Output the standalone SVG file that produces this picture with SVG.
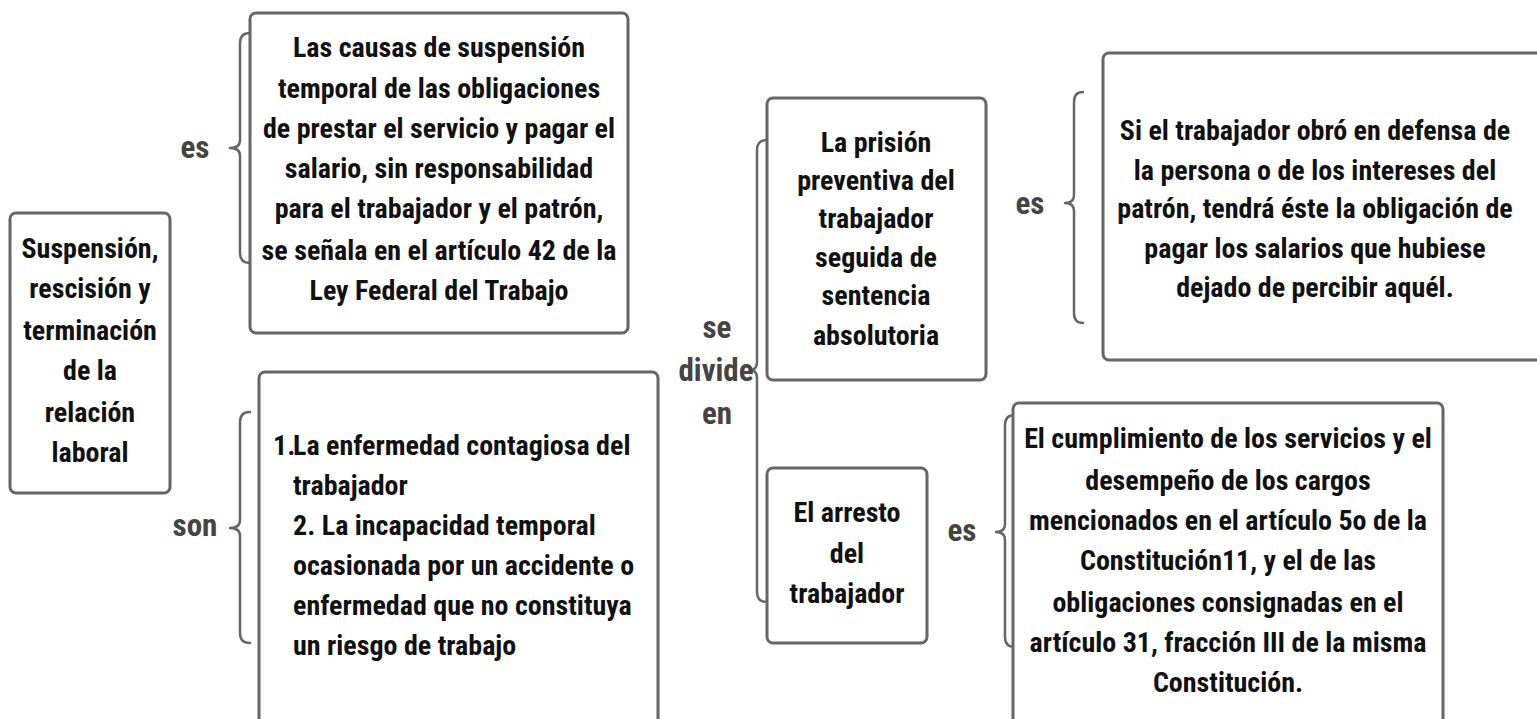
<svg xmlns="http://www.w3.org/2000/svg" width="1537" height="719" viewBox="0 0 1537 719">
<style>
.box{fill:#fff;stroke:#666;stroke-width:3}
.br{fill:none;stroke:#666;stroke-width:2.5;stroke-linejoin:round;stroke-linecap:round}
.t{font-family:"Liberation Sans Narrow","Arial Narrow","Roboto Condensed","Liberation Sans",sans-serif;font-weight:bold;font-size:28px;fill:#111;text-anchor:middle}
.tl{text-anchor:start}
.lb{font-family:"Liberation Sans Narrow","Arial Narrow","Roboto Condensed","Liberation Sans",sans-serif;font-weight:bold;font-size:31px;fill:#444;text-anchor:middle}
</style>
<rect width="1537" height="719" fill="#fff"/>
<g id="connectors">
<path class="br" d="M250,33 Q240,33 240,43 L240,140 Q240,148 230,148 Q240,148 240,156 L240,253 Q240,263 250,263"/>
<path class="br" d="M250,412 Q240,412 240,422 L240,520 Q240,528 230,528 Q240,528 240,536 L240,633 Q240,643 250,643"/>
<path class="br" d="M767,140 Q757,140 757,150 L757,362 Q757,370 750,370 Q757,370 757,378 L757,592 Q757,602 767,602"/>
<path class="br" d="M1015,415 Q1005,415 1005,425 L1005,524 Q1005,532 996,532 Q1005,532 1005,540 L1005,637 Q1005,647 1015,647"/>
<path class="br" d="M1083,92 Q1074,92 1074,102 L1074,195 Q1074,203 1065,203 Q1074,203 1074,211 L1074,313 Q1074,323 1083,323"/>
<text class="lb" x="195" y="158">es</text>
<text class="lb" x="195" y="536">son</text>
<text class="lb" x="717" y="338">se</text>
<text class="lb" x="716" y="381">divide</text>
<text class="lb" x="717" y="424">en</text>
<text class="lb" x="962" y="541">es</text>
<text class="lb" x="1030" y="214">es</text>
</g>
<g id="main">
<rect class="box" x="10" y="213" width="160" height="280" rx="6"/>
<text class="t" x="90" y="258">Suspensión,</text>
<text class="t" x="90" y="298">rescisión y</text>
<text class="t" x="90" y="340">terminación</text>
<text class="t" x="90" y="380">de la</text>
<text class="t" x="90" y="422">relación</text>
<text class="t" x="90" y="462">laboral</text>
</g>
<g id="n-causas">
<rect class="box" x="250" y="13" width="378" height="320" rx="6"/>
<text class="t" x="439" y="57">Las causas de suspensión</text>
<text class="t" x="439" y="98">temporal de las obligaciones</text>
<text class="t" x="439" y="138">de prestar el servicio y pagar el</text>
<text class="t" x="439" y="178">salario, sin responsabilidad</text>
<text class="t" x="439" y="218">para el trabajador y el patrón,</text>
<text class="t" x="439" y="260">se señala en el artículo 42 de la</text>
<text class="t" x="439" y="300">Ley Federal del Trabajo</text>
</g>
<g id="n-son">
<rect class="box" x="259" y="372" width="399" height="360" rx="6"/>
<text class="t tl" x="273" y="455">1.</text>
<text class="t tl" x="293" y="455">La enfermedad contagiosa del</text>
<text class="t tl" x="293" y="495">trabajador</text>
<text class="t tl" x="293" y="535">2. La incapacidad temporal</text>
<text class="t tl" x="293" y="575">ocasionada por un accidente o</text>
<text class="t tl" x="293" y="615">enfermedad que no constituya</text>
<text class="t tl" x="293" y="655">un riesgo de trabajo</text>
</g>
<g id="n-prision">
<rect class="box" x="767" y="98" width="219" height="282" rx="6"/>
<text class="t" x="876" y="152">La prisión</text>
<text class="t" x="876" y="190">preventiva del</text>
<text class="t" x="876" y="228">trabajador</text>
<text class="t" x="876" y="267">seguida de</text>
<text class="t" x="876" y="305">sentencia</text>
<text class="t" x="876" y="345">absolutoria</text>
</g>
<g id="n-arresto">
<rect class="box" x="767" y="468" width="160" height="175" rx="6"/>
<text class="t" x="847" y="522">El arresto</text>
<text class="t" x="847" y="563">del</text>
<text class="t" x="847" y="603">trabajador</text>
</g>
<g id="n-defensa">
<rect class="box" x="1103" y="53" width="450" height="307" rx="6"/>
<text class="t" x="1315" y="140">Si el trabajador obró en defensa de</text>
<text class="t" x="1315" y="180">la persona o de los intereses del</text>
<text class="t" x="1315" y="218">patrón, tendrá éste la obligación de</text>
<text class="t" x="1315" y="258">pagar los salarios que hubiese</text>
<text class="t" x="1315" y="297">dejado de percibir aquél.</text>
</g>
<g id="n-cumplimiento">
<rect class="box" x="1013" y="403" width="430" height="330" rx="6"/>
<text class="t" x="1228" y="448">El cumplimiento de los servicios y el</text>
<text class="t" x="1228" y="490">desempeño de los cargos</text>
<text class="t" x="1228" y="530">mencionados en el artículo 5o de la</text>
<text class="t" x="1228" y="570">Constitución11, y el de las</text>
<text class="t" x="1228" y="612">obligaciones consignadas en el</text>
<text class="t" x="1228" y="652">artículo 31, fracción III de la misma</text>
<text class="t" x="1228" y="692">Constitución.</text>
</g>
</svg>
